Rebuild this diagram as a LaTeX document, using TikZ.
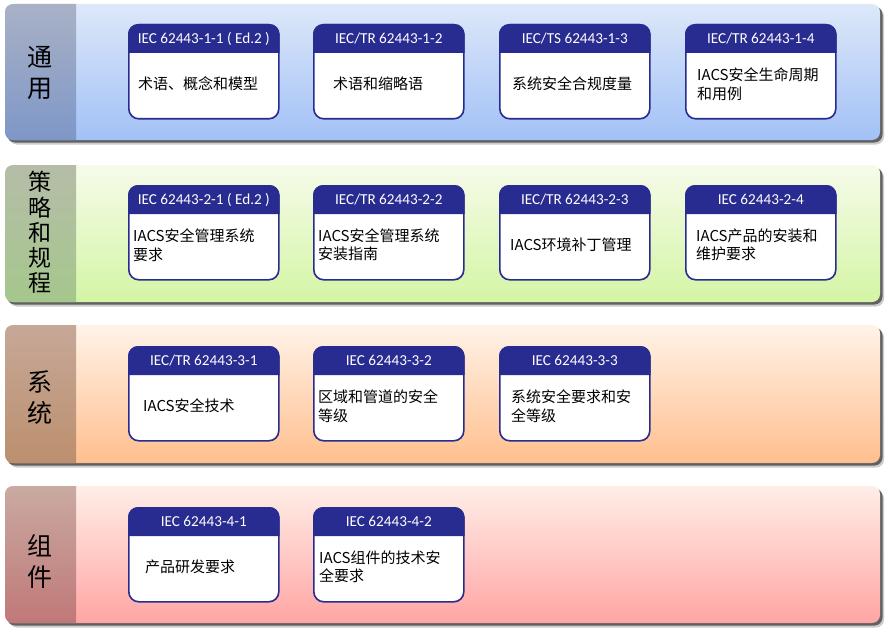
\documentclass[tikz,border=0pt]{standalone}
\usepackage{fontspec}
\setmainfont{Noto Sans CJK SC}
\newfontfamily\hdrfont{Carlito}
\usepackage{tikz}
\usetikzlibrary{positioning}
\definecolor{navy}{HTML}{282B8F}
\definecolor{blueTop}{HTML}{DDE8F9}
\definecolor{blueBot}{HTML}{A2C1F6}
\definecolor{blueColTop}{HTML}{A9B1C6}
\definecolor{blueColBot}{HTML}{7E97C7}
\definecolor{greenTop}{HTML}{F6FBEA}
\definecolor{greenBot}{HTML}{D4F5A4}
\definecolor{greenColTop}{HTML}{B5BDA8}
\definecolor{greenColBot}{HTML}{A5C78C}
\definecolor{orangeTop}{HTML}{FFF3E8}
\definecolor{orangeBot}{HTML}{FFBF8E}
\definecolor{orangeColTop}{HTML}{C6A898}
\definecolor{orangeColBot}{HTML}{BC8F6E}
\definecolor{redTop}{HTML}{FFEEE8}
\definecolor{redBot}{HTML}{FFA5A3}
\definecolor{redColTop}{HTML}{C9AAA1}
\definecolor{redColBot}{HTML}{C07878}
\tikzstyle{card} = [rectangle, draw=navy, line width=1.6pt, fill=white,
rounded corners=10pt, minimum width=150pt, minimum height=94pt,
inner sep=0pt, anchor=north west]
\tikzstyle{hdr} = [text=white, inner sep=0pt, font=\hdrfont\fontsize{15.2}{16}\selectfont]
\tikzstyle{body} = [anchor=west, inner sep=0pt, align=left,
font=\fontsize{15}{18.5}\selectfont]
\tikzstyle{lbl} = [inner sep=0pt, align=center, font=\fontsize{25}{31}\selectfont]
\newcommand{\layer}[7]{ %
  % band from y=#1 to y=#2 with a darker label column
  \fill[black!20, rounded corners=8pt] (9,#1+4.5) rectangle (884,#2+4.5); %
  \fill[black!62, rounded corners=8pt] (7,#1+2.5) rectangle (882.5,#2+2.5); %
  \path[rounded corners=8pt, top color=#3, bottom color=#4] (5,#1) rectangle (880,#2); %
  \begin{scope}
    \clip[rounded corners=8pt] (5,#1) rectangle (880,#2); %
    \path[top color=#5, bottom color=#6] (5,#1) rectangle (76,#2); %
  \end{scope}
}
\newcommand{\stdcard}[6]{ %
  % name, x, y, header, body offset, body text
  \node[card] (#1) at (#2,#3) {}; %
  \fill[navy] ([yshift=-29pt]#1.north west) [rounded corners=10pt] -- (#1.north west)
    -- (#1.north east) [sharp corners] -- ([yshift=-29pt]#1.north east) -- cycle; %
  \node[hdr] (#1-hdr) at ([yshift=-14.5pt]#1.north) {#4}; %
  \node[body] (#1-txt) at ([xshift=#5pt, yshift=-60pt]#1.north west) {#6}; %
}

\begin{document}
\begin{tikzpicture}[x=1pt, y=-1pt]
    \useasboundingbox[fill=white] (0,0) rectangle (887,634);
    \layer{4}{140}{blueTop}{blueBot}{blueColTop}{blueColBot}{}
    \layer{165}{302}{greenTop}{greenBot}{greenColTop}{greenColBot}{}
    \layer{325}{463}{orangeTop}{orangeBot}{orangeColTop}{orangeColBot}{}
    \layer{486}{623}{redTop}{redBot}{redColTop}{redColBot}{}
    \node[lbl] (general) at (40,72.5) {通\\用};
    \node[lbl, font=\fontsize{23}{25.3}\selectfont] (policy) at (40,232.5) {策\\略\\和\\规\\程};
    \node[lbl] (system) at (40,397.5) {系\\统};
    \node[lbl] (component) at (40,561.5) {组\\件};
    %
    \stdcard{c11}{128}{24}{IEC 62443-1-1 ( Ed.2 )}{10}{术语、概念和模型}
    \stdcard{c12}{313}{24}{IEC/TR 62443-1-2}{20}{术语和缩略语}
    \stdcard{c13}{499}{24}{IEC/TS 62443-1-3}{13}{系统安全合规度量}
    \stdcard{c14}{685}{24}{IEC/TR 62443-1-4}{12}{IACS安全生命周期\\和用例}
    \stdcard{c21}{128}{185}{IEC 62443-2-1 ( Ed.2 )}{5}{IACS安全管理系统\\要求}
    \stdcard{c22}{313}{185}{IEC/TR 62443-2-2}{5}{IACS安全管理系统\\安装指南}
    \stdcard{c23}{499}{185}{IEC/TR 62443-2-3}{11}{IACS环境补丁管理}
    \stdcard{c24}{685}{185}{IEC 62443-2-4}{11}{IACS产品的安装和\\维护要求}
    \stdcard{c31}{128}{346}{IEC/TR 62443-3-1}{15}{IACS安全技术}
    \stdcard{c32}{313}{346}{IEC 62443-3-2}{5}{区域和管道的安全\\等级}
    \stdcard{c33}{499}{346}{IEC 62443-3-3}{12}{系统安全要求和安\\全等级}
    \stdcard{c41}{128}{507}{IEC 62443-4-1}{17}{产品研发要求}
    \stdcard{c42}{313}{507}{IEC 62443-4-2}{6}{IACS组件的技术安\\全要求}
\end{tikzpicture}
\end{document}
